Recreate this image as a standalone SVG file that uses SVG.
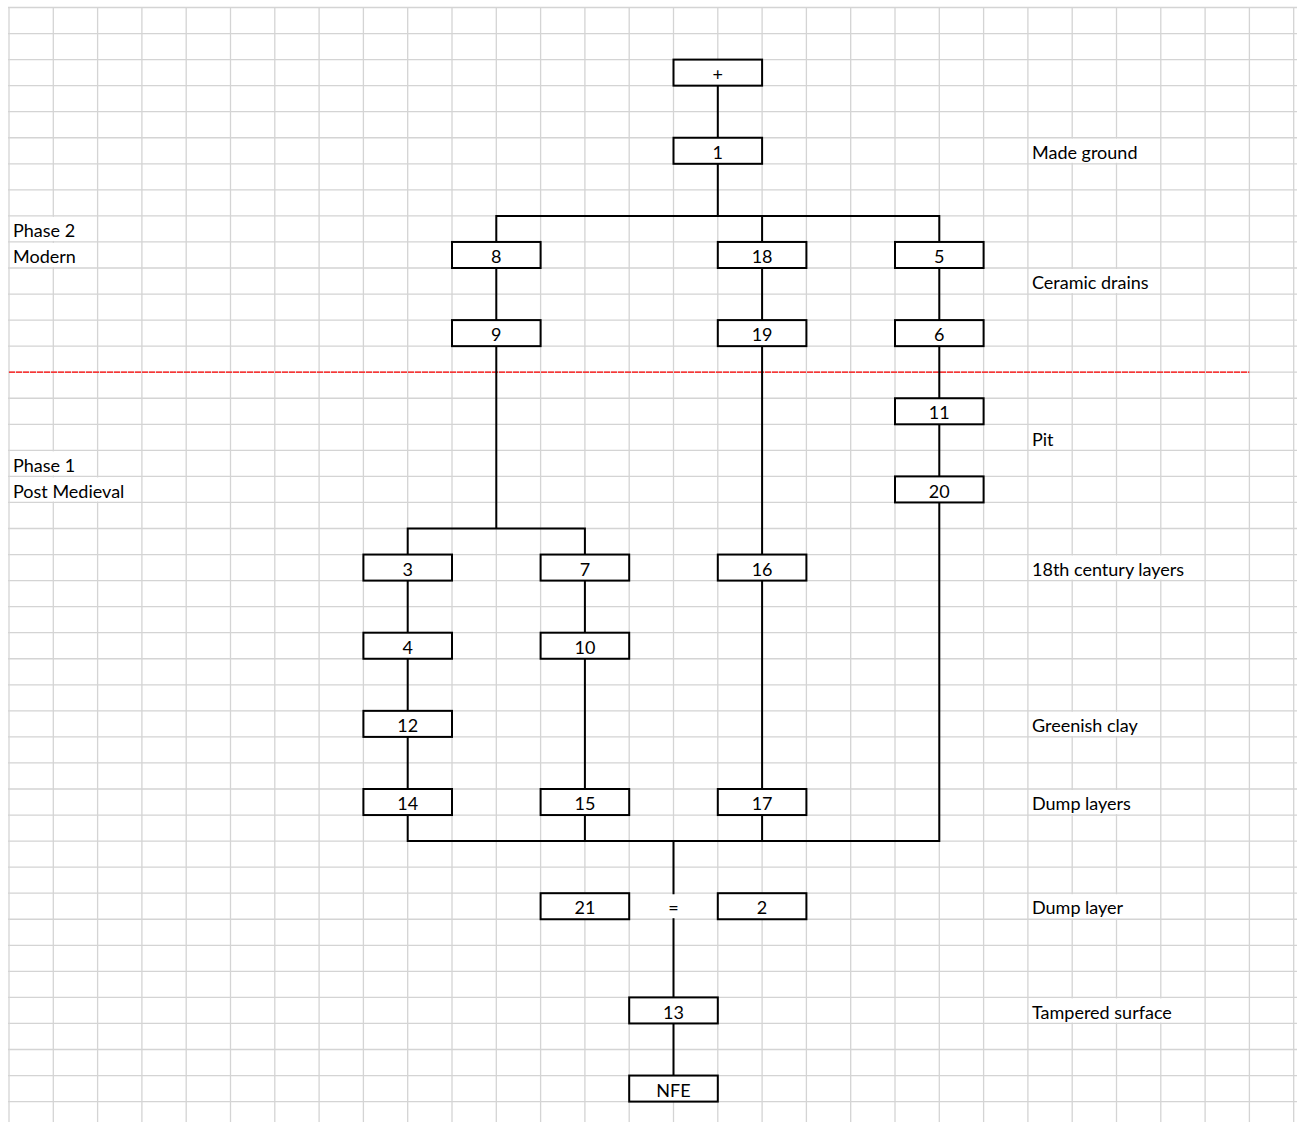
<svg xmlns="http://www.w3.org/2000/svg" width="1297" height="1122" viewBox="0 0 1297 1122">
<style>
.grid{stroke:#d4d4d4;stroke-width:1.3;fill:none}
.hide{fill:#ffffff;stroke:none}
.box{fill:#ffffff;stroke:#000000;stroke-width:2}
.conn{stroke:#000000;stroke-width:2;fill:none;stroke-linecap:square}
.phase{stroke:#ff0000;stroke-width:1.3;stroke-dasharray:6 1;fill:none}
text{font-family:Lato,"Liberation Sans",sans-serif;font-size:18px;fill:#000000}
.c{text-anchor:middle}
</style>
<rect x="0" y="0" width="1297" height="1122" fill="#ffffff"/>
<g id="grid">
<path class="grid" d="M9 7.5V1122M53.3 7.5V1122M97.6 7.5V1122M141.9 7.5V1122M186.2 7.5V1122M230.5 7.5V1122M274.8 7.5V1122M319.1 7.5V1122M363.4 7.5V1122M407.7 7.5V1122M452 7.5V1122M496.3 7.5V1122M540.6 7.5V1122M584.9 7.5V1122M629.2 7.5V1122M673.5 7.5V1122M717.8 7.5V1122M762.1 7.5V1122M806.4 7.5V1122M850.7 7.5V1122M895 7.5V1122M939.3 7.5V1122M983.6 7.5V1122M1027.9 7.5V1122M1072.2 7.5V1122M1116.5 7.5V1122M1160.8 7.5V1122M1205.1 7.5V1122M1249.4 7.5V1122M1293.7 7.5V1122
M8 7.5H1297M8 33.55H1297M8 59.6H1297M8 85.65H1297M8 111.7H1297M8 137.75H1297M8 163.8H1297M8 189.85H1297M8 215.9H1297M8 241.95H1297M8 268H1297M8 294.05H1297M8 320.1H1297M8 346.15H1297M8 372.2H1297M8 398.25H1297M8 424.3H1297M8 450.35H1297M8 476.4H1297M8 502.45H1297M8 528.5H1297M8 554.55H1297M8 580.6H1297M8 606.65H1297M8 632.7H1297M8 658.75H1297M8 684.8H1297M8 710.85H1297M8 736.9H1297M8 762.95H1297M8 789H1297M8 815.05H1297M8 841.1H1297M8 867.15H1297M8 893.2H1297M8 919.25H1297M8 945.3H1297M8 971.35H1297M8 997.4H1297M8 1023.45H1297M8 1049.5H1297M8 1075.55H1297M8 1101.6H1297"/>
<rect class="hide" x="51.8" y="216.9" width="3" height="24.05"/>
<rect class="hide" x="51.8" y="242.95" width="3" height="24.05"/>
<rect class="hide" x="51.8" y="451.35" width="3" height="24.05"/>
<rect class="hide" x="51.8" y="477.4" width="3" height="24.05"/>
<rect class="hide" x="96.1" y="477.4" width="3" height="24.05"/>
<rect class="hide" x="1070.7" y="138.75" width="3" height="24.05"/>
<rect class="hide" x="1115" y="138.75" width="3" height="24.05"/>
<rect class="hide" x="1070.7" y="269" width="3" height="24.05"/>
<rect class="hide" x="1115" y="269" width="3" height="24.05"/>
<rect class="hide" x="1070.7" y="555.55" width="3" height="24.05"/>
<rect class="hide" x="1115" y="555.55" width="3" height="24.05"/>
<rect class="hide" x="1159.3" y="555.55" width="3" height="24.05"/>
<rect class="hide" x="1070.7" y="711.85" width="3" height="24.05"/>
<rect class="hide" x="1115" y="711.85" width="3" height="24.05"/>
<rect class="hide" x="1070.7" y="790" width="3" height="24.05"/>
<rect class="hide" x="1115" y="790" width="3" height="24.05"/>
<rect class="hide" x="1070.7" y="894.2" width="3" height="24.05"/>
<rect class="hide" x="1115" y="894.2" width="3" height="24.05"/>
<rect class="hide" x="1070.7" y="998.4" width="3" height="24.05"/>
<rect class="hide" x="1115" y="998.4" width="3" height="24.05"/>
<rect class="hide" x="1159.3" y="998.4" width="3" height="24.05"/>
<rect class="hide" x="672" y="894.2" width="3" height="24.05"/>
</g>
<path id="phase-divider" class="phase" d="M9 372.2H1249.4"/>
<g id="labels">
<text x="13" y="237">Phase 2</text>
<text x="13" y="263">Modern</text>
<text x="13" y="471.5">Phase 1</text>
<text x="13" y="497.5">Post Medieval</text>
<text x="1032" y="159">Made ground</text>
<text x="1032" y="289">Ceramic drains</text>
<text x="1032" y="445.5">Pit</text>
<text x="1032" y="575.7">18th century layers</text>
<text x="1032" y="732">Greenish clay</text>
<text x="1032" y="810.2">Dump layers</text>
<text x="1032" y="914.4">Dump layer</text>
<text x="1032" y="1018.6">Tampered surface</text>
</g>
<g id="connectors">
<path class="conn" d="M717.8 85.65V137.75M717.8 163.8V215.9M496.3 215.9H939.3M496.3 215.9V241.95M762.1 215.9V241.95M939.3 215.9V241.95M496.3 268V320.1M762.1 268V320.1M939.3 268V320.1M496.3 346.15V528.5M407.7 528.5H584.9M407.7 528.5V554.55M584.9 528.5V554.55M762.1 346.15V554.55M939.3 346.15V398.25M939.3 424.3V476.4M939.3 502.45V841.1M407.7 580.6V632.7M407.7 658.75V710.85M407.7 736.9V789M584.9 580.6V632.7M584.9 658.75V789M762.1 580.6V789M407.7 815.05V841.1M584.9 815.05V841.1M762.1 815.05V841.1M407.7 841.1H939.3M673.5 841.1V893.2M673.5 919.25V997.4M673.5 1023.45V1075.55"/>
</g>
<g id="n-plus"><rect class="box" x="673.5" y="59.6" width="88.6" height="26.05"/><text class="c" x="717.8" y="80.8">+</text></g>
<g id="n1"><rect class="box" x="673.5" y="137.75" width="88.6" height="26.05"/><text class="c" x="717.8" y="159">1</text></g>
<g id="n8"><rect class="box" x="452" y="241.95" width="88.6" height="26.05"/><text class="c" x="496.3" y="263.1">8</text></g>
<g id="n18"><rect class="box" x="717.8" y="241.95" width="88.6" height="26.05"/><text class="c" x="762.1" y="263.1">18</text></g>
<g id="n5"><rect class="box" x="895" y="241.95" width="88.6" height="26.05"/><text class="c" x="939.3" y="263.1">5</text></g>
<g id="n9"><rect class="box" x="452" y="320.1" width="88.6" height="26.05"/><text class="c" x="496.3" y="341.3">9</text></g>
<g id="n19"><rect class="box" x="717.8" y="320.1" width="88.6" height="26.05"/><text class="c" x="762.1" y="341.3">19</text></g>
<g id="n6"><rect class="box" x="895" y="320.1" width="88.6" height="26.05"/><text class="c" x="939.3" y="341.3">6</text></g>
<g id="n11"><rect class="box" x="895" y="398.25" width="88.6" height="26.05"/><text class="c" x="939.3" y="419.4">11</text></g>
<g id="n20"><rect class="box" x="895" y="476.4" width="88.6" height="26.05"/><text class="c" x="939.3" y="497.6">20</text></g>
<g id="n3"><rect class="box" x="363.4" y="554.55" width="88.6" height="26.05"/><text class="c" x="407.7" y="575.7">3</text></g>
<g id="n7"><rect class="box" x="540.6" y="554.55" width="88.6" height="26.05"/><text class="c" x="584.9" y="575.7">7</text></g>
<g id="n16"><rect class="box" x="717.8" y="554.55" width="88.6" height="26.05"/><text class="c" x="762.1" y="575.7">16</text></g>
<g id="n4"><rect class="box" x="363.4" y="632.7" width="88.6" height="26.05"/><text class="c" x="407.7" y="653.9">4</text></g>
<g id="n10"><rect class="box" x="540.6" y="632.7" width="88.6" height="26.05"/><text class="c" x="584.9" y="653.9">10</text></g>
<g id="n12"><rect class="box" x="363.4" y="710.85" width="88.6" height="26.05"/><text class="c" x="407.7" y="732">12</text></g>
<g id="n14"><rect class="box" x="363.4" y="789" width="88.6" height="26.05"/><text class="c" x="407.7" y="810.2">14</text></g>
<g id="n15"><rect class="box" x="540.6" y="789" width="88.6" height="26.05"/><text class="c" x="584.9" y="810.2">15</text></g>
<g id="n17"><rect class="box" x="717.8" y="789" width="88.6" height="26.05"/><text class="c" x="762.1" y="810.2">17</text></g>
<g id="n21"><rect class="box" x="540.6" y="893.2" width="88.6" height="26.05"/><text class="c" x="584.9" y="914.4">21</text></g>
<g id="eq"><text class="c" x="673.5" y="914.4">=</text></g>
<g id="n2"><rect class="box" x="717.8" y="893.2" width="88.6" height="26.05"/><text class="c" x="762.1" y="914.4">2</text></g>
<g id="n13"><rect class="box" x="629.2" y="997.4" width="88.6" height="26.05"/><text class="c" x="673.5" y="1018.6">13</text></g>
<g id="nNFE"><rect class="box" x="629.2" y="1075.55" width="88.6" height="26.05"/><text class="c" x="673.5" y="1096.7">NFE</text></g>
</svg>
